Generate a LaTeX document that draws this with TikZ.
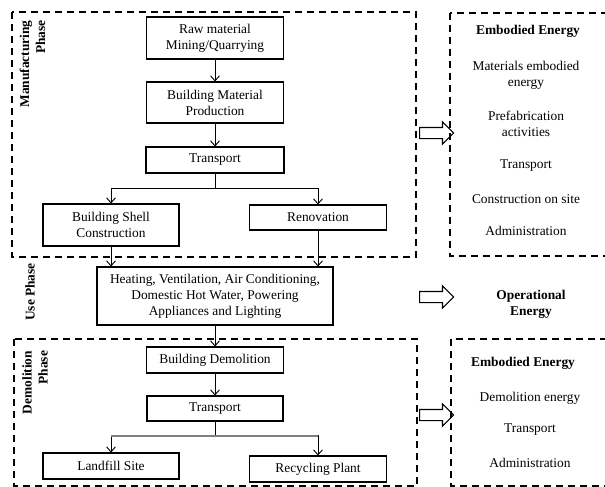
\documentclass[tikz,border=0pt]{standalone}
\usepackage{fontspec}
\setmainfont{Liberation Serif}
\usetikzlibrary{arrows.meta,shapes.arrows}
\newcommand{\flowfont}{\fontsize{13.4}{16}\selectfont}

\tikzset{
  box/.style={draw, line width=1.1pt, align=center, inner sep=2pt, font=\flowfont},
  phasebox/.style={draw, line width=1.6pt, dash pattern=on 7pt off 5pt},
  flow/.style={line width=0.9pt, -{Straight Barb[length=5pt,width=9pt]}},
  splitbar/.style={line width=2pt, gray},
  bigarrow/.style={draw, line width=1.2pt, single arrow, anchor=tail, inner xsep=0pt, inner ysep=5pt,
                   minimum height=34pt, single arrow head extend=5.5pt},
  phaselabel/.style={rotate=90, align=right, font=\flowfont\bfseries, inner sep=0pt},
  energytext/.style={align=center, font=\flowfont, inner sep=0pt},
}

\begin{document}
\begin{tikzpicture}[x=1pt,y=-1pt]
  \useasboundingbox (0,0) rectangle (605,487);
  \clip (0,0) rectangle (605,487);

  % Phase frames
  \draw[phasebox] (12,12) rectangle (416,257);
  \draw[phasebox] (450,13) rectangle (640,256);
  \draw[phasebox] (14,339) rectangle (417,486);
  \draw[phasebox] (451,339) rectangle (640,486);

  \node[phaselabel] (lblmanuf) at (32.5,64) {Manufacturing\\Phase};
  \node[phaselabel] (lbluse) at (30,292) {Use Phase};
  \node[phaselabel] (lbldemol) at (35,382.5) {Demolition\\Phase};

  % Flow boxes
  \node[box, minimum width=137pt, minimum height=42pt] (raw) at (215,38) {Raw material\\Mining/Quarrying};
  \node[box, minimum width=137pt, minimum height=41pt] (prod) at (215,102.5) {Building Material\\Production};
  \node[box, minimum width=138pt, minimum height=26pt] (trans1) at (215,160) {Transport};
  \node[box, minimum width=136pt, minimum height=42pt] (shell) at (111,225) {Building Shell\\Construction};
  \node[box, minimum width=137pt, minimum height=25pt] (renov) at (318,217.5) {Renovation};
  \node[box, minimum width=236pt, minimum height=58pt] (hvac) at (215,296) {Heating, Ventilation, Air Conditioning,\\Domestic Hot Water, Powering\\Appliances and Lighting};
  \node[box, minimum width=137pt, minimum height=26pt] (demol) at (215,360) {Building Demolition};
  \node[box, minimum width=136pt, minimum height=25pt] (trans2) at (215,408.5) {Transport};
  \node[box, minimum width=136pt, minimum height=26pt] (landfill) at (111,466) {Landfill Site};
  \node[box, minimum width=137pt, minimum height=26pt] (recyc) at (318,469) {Recycling Plant};

  % Connectors
  \draw[flow] (raw) -- (prod);
  \draw[flow] (prod) -- (trans1);
  \draw (trans1.south) -- ++(0,15) coordinate (split1);
  \draw[flow] (split1) -| (shell.north);
  \draw[flow] (split1) -| (renov.north);
  \draw[flow] (shell.south) -- (shell.south |- hvac.north);
  \draw[flow] (renov.south) -- (renov.south |- hvac.north);
  \draw[flow] (hvac) -- (demol);
  \draw[flow] (demol) -- (trans2);
  \draw (trans2.south) -- ++(0,14) coordinate (split2);
  \draw[flow] (split2) -| (landfill.north);
  \draw[flow] (split2) -| (recyc.north);
  \draw[splitbar] (landfill.north |- split2) -- (recyc.north |- split2);

  % Energy side
  \node[bigarrow] (toembodied) at (419,133) {};
  \node[bigarrow] (tooperational) at (419,297) {};
  \node[bigarrow] (todemolition) at (419,415) {};

  \node[energytext, font=\flowfont\bfseries] (ehead1) at (528,31) {Embodied Energy};
  \node[energytext] (ematerials) at (526,75) {Materials embodied\\energy};
  \node[energytext] (eprefab) at (526,124) {Prefabrication\\activities};
  \node[energytext] (etransport1) at (526,166) {Transport};
  \node[energytext] (esite) at (526,199) {Construction on site};
  \node[energytext] (eadmin1) at (526,231) {Administration};

  \node[energytext, font=\flowfont\bfseries] (eoper) at (531,304) {Operational\\Energy};

  \node[energytext, font=\flowfont\bfseries] (ehead2) at (523,363) {Embodied Energy};
  \node[energytext] (edemol) at (530,398) {Demolition energy};
  \node[energytext] (etransport2) at (530,430) {Transport};
  \node[energytext] (eadmin2) at (530,463) {Administration};
\end{tikzpicture}
\end{document}
